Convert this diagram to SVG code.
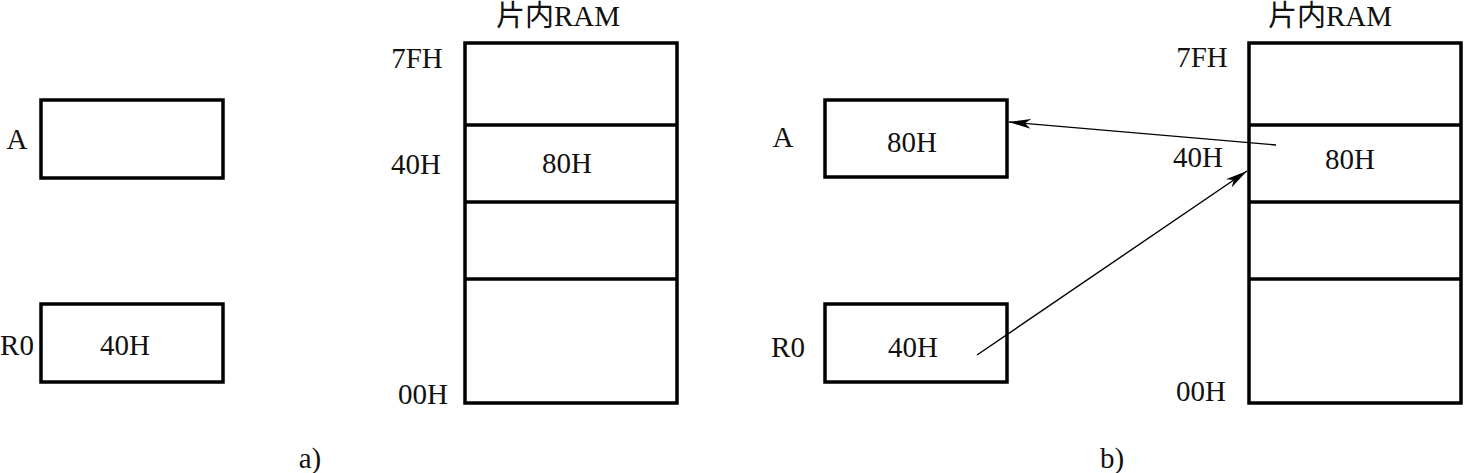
<svg xmlns="http://www.w3.org/2000/svg" width="1464" height="473" viewBox="0 0 1464 473">
<style>
.box{fill:#fff;stroke:#000;stroke-width:3.5}
.div{stroke:#000;stroke-width:3.5;fill:none}
.t{font-family:"Liberation Serif","Noto Sans CJK SC",serif;font-size:29px;fill:#111;text-anchor:middle}
.conn{stroke:#000;stroke-width:1.4;fill:none}
</style>
<defs>
<marker id="ah" markerUnits="userSpaceOnUse" markerWidth="24" markerHeight="12" viewBox="0 -6 24 12" refX="22" refY="0" orient="auto">
<path d="M0,-5 L22,0 L0,5 L6,0 z" fill="#000"/>
</marker>
</defs>
<rect width="1464" height="473" fill="#fff"/>
<g id="panel-a">
<g id="a-regA"><rect class="box" x="41" y="100" width="182" height="78"/><text class="t" x="17" y="149">A</text></g>
<g id="a-regR0"><rect class="box" x="41" y="304" width="182" height="78"/><text class="t" x="17" y="355">R0</text><text class="t" x="125" y="355">40H</text></g>
<g id="a-ram">
<rect class="box" x="465" y="43" width="212" height="360"/>
<line class="div" x1="465" y1="125" x2="677" y2="125"/>
<line class="div" x1="465" y1="202" x2="677" y2="202"/>
<line class="div" x1="465" y1="279" x2="677" y2="279"/>
<text class="t" x="558" y="26">片内RAM</text>
<text class="t" x="417" y="68">7FH</text>
<text class="t" x="416" y="174">40H</text>
<text class="t" x="423" y="404">00H</text>
<text class="t" x="567" y="173">80H</text>
</g>
<text class="t" x="310" y="468">a)</text>
</g>
<g id="panel-b">
<g id="b-regA"><rect class="box" x="825" y="100" width="182" height="77"/><text class="t" x="783" y="147">A</text><text class="t" x="912" y="152">80H</text></g>
<g id="b-regR0"><rect class="box" x="825" y="304" width="182" height="78"/><text class="t" x="788" y="357">R0</text><text class="t" x="913" y="357">40H</text></g>
<g id="b-ram">
<rect class="box" x="1249" y="43" width="212" height="360"/>
<line class="div" x1="1249" y1="125" x2="1461" y2="125"/>
<line class="div" x1="1249" y1="202" x2="1461" y2="202"/>
<line class="div" x1="1249" y1="279" x2="1461" y2="279"/>
<text class="t" x="1330" y="26">片内RAM</text>
<text class="t" x="1202" y="67">7FH</text>
<text class="t" x="1198" y="167">40H</text>
<text class="t" x="1201" y="401">00H</text>
<text class="t" x="1350" y="169">80H</text>
</g>
<text class="t" x="1112" y="468">b)</text>
</g>
<g id="connectors">
<line class="conn" x1="1276" y1="145" x2="1009" y2="122" marker-end="url(#ah)"/>
<line class="conn" x1="977" y1="355" x2="1247" y2="171" marker-end="url(#ah)"/>
</g>
</svg>
